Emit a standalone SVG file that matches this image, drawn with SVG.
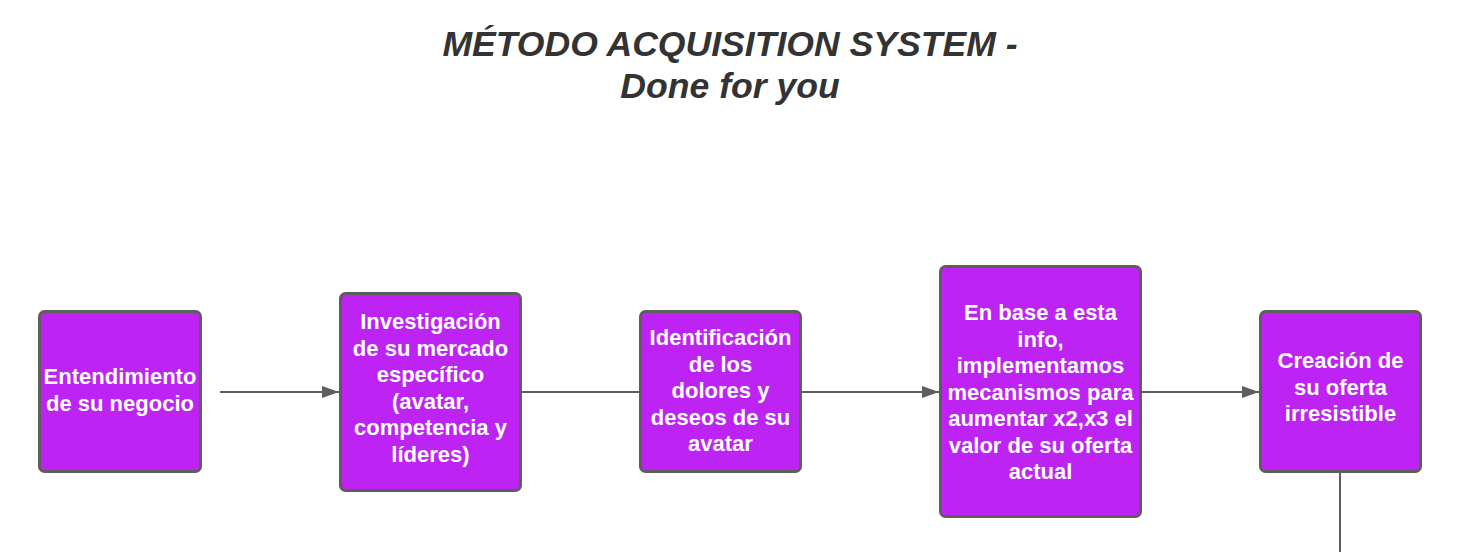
<svg xmlns="http://www.w3.org/2000/svg" width="1480" height="552" viewBox="0 0 1480 552">
<style>
.title{font-family:"Liberation Sans",Arial,sans-serif;font-weight:bold;font-style:italic;font-size:35.6px;fill:#333333;text-anchor:middle}
.box{fill:#bd24f3;stroke:#5e5e5e;stroke-width:3}
.lbl{font-family:"Liberation Sans",Arial,sans-serif;font-weight:bold;font-size:22px;fill:#ffffff;text-anchor:middle}
.conn{stroke:#5e5e5e;stroke-width:2;fill:none}
</style>
<defs>
<marker id="arr" viewBox="0 0 17 12" refX="17" refY="6" markerWidth="17" markerHeight="12" markerUnits="userSpaceOnUse" orient="auto">
<path d="M0,0 L17,6 L0,12 z" fill="#5e5e5e"/>
</marker>
</defs>
<rect width="1480" height="552" fill="#ffffff"/>
<g id="title">
<text class="title" x="730" y="56">MÉTODO ACQUISITION SYSTEM -</text>
<text class="title" x="730" y="98">Done for you</text>
</g>
<g id="connectors">
<line class="conn" x1="220" y1="392" x2="339" y2="392" marker-end="url(#arr)"/>
<line class="conn" x1="521" y1="392" x2="640" y2="392"/>
<line class="conn" x1="801" y1="392" x2="939" y2="392" marker-end="url(#arr)"/>
<line class="conn" x1="1141" y1="392" x2="1259" y2="392" marker-end="url(#arr)"/>
<line class="conn" x1="1340" y1="472" x2="1340" y2="552"/>
</g>
<g id="n1">
<rect class="box" x="39.5" y="311.5" width="161" height="160" rx="5"/>
<text class="lbl" x="120" y="384">Entendimiento</text>
<text class="lbl" x="120" y="411">de su negocio</text>
</g>
<g id="n2">
<rect class="box" x="340.5" y="293.5" width="180" height="197" rx="5"/>
<text class="lbl" x="430.5" y="329">Investigación</text>
<text class="lbl" x="430.5" y="355.5">de su mercado</text>
<text class="lbl" x="430.5" y="382">específico</text>
<text class="lbl" x="430.5" y="408.5">(avatar,</text>
<text class="lbl" x="430.5" y="435">competencia y</text>
<text class="lbl" x="430.5" y="461.5">líderes)</text>
</g>
<g id="n3">
<rect class="box" x="640.5" y="311.5" width="160" height="160" rx="5"/>
<text class="lbl" x="720.5" y="345">Identificación</text>
<text class="lbl" x="720.5" y="371.5">de los</text>
<text class="lbl" x="720.5" y="398">dolores y</text>
<text class="lbl" x="720.5" y="424.5">deseos de su</text>
<text class="lbl" x="720.5" y="451">avatar</text>
</g>
<g id="n4">
<rect class="box" x="940.5" y="266.5" width="200" height="250" rx="5"/>
<text class="lbl" x="1040.5" y="320">En base a esta</text>
<text class="lbl" x="1040.5" y="346.5">info,</text>
<text class="lbl" x="1040.5" y="373">implementamos</text>
<text class="lbl" x="1040.5" y="399.5">mecanismos para</text>
<text class="lbl" x="1040.5" y="426">aumentar x2,x3 el</text>
<text class="lbl" x="1040.5" y="452.5">valor de su oferta</text>
<text class="lbl" x="1040.5" y="479">actual</text>
</g>
<g id="n5">
<rect class="box" x="1260.5" y="311.5" width="160" height="160" rx="5"/>
<text class="lbl" x="1340.5" y="368">Creación de</text>
<text class="lbl" x="1340.5" y="394.5">su oferta</text>
<text class="lbl" x="1340.5" y="421">irresistible</text>
</g>
</svg>
